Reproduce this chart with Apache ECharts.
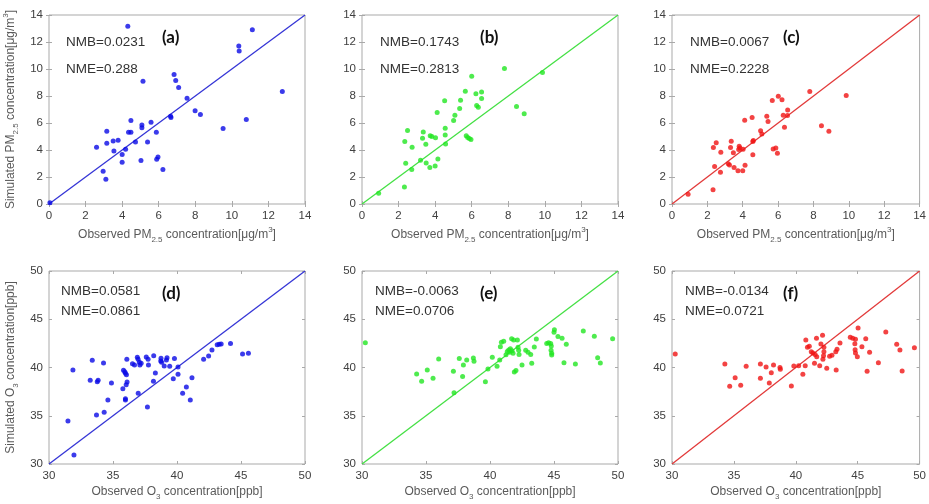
<!DOCTYPE html>
<html>
<head>
<meta charset="utf-8">
<script src="https://cdn.jsdelivr.net/npm/echarts@6/dist/echarts.min.js"></script>
<style>
  html, body { margin: 0; background: #fff; }
  #chart { width: 929px; height: 504px; }
</style>
</head>
<body>
<div id="chart"></div>
<script>
// [observed, simulated] pairs
const pmA = [
  [0.05, 0.1], [4.31, 13.16], [11.12, 12.91], [10.38, 11.7], [10.4, 11.33],
  [6.84, 9.6], [6.93, 9.15], [7.09, 8.63], [5.14, 9.1], [7.55, 7.84],
  [7.99, 6.9], [8.28, 6.63], [6.65, 6.5], [6.67, 6.4], [12.76, 8.34],
  [9.52, 5.59], [10.79, 6.26], [4.48, 6.18], [5.58, 6.06], [5.08, 5.86],
  [5.08, 5.64], [4.35, 5.32], [4.48, 5.32], [5.87, 5.32], [3.16, 5.39],
  [3.16, 4.5], [2.6, 4.2], [3.51, 4.67], [3.78, 4.72], [3.55, 3.93],
  [4.19, 4.06], [4.0, 3.66], [4.0, 3.09], [4.73, 4.6], [5.39, 4.6],
  [5.03, 3.22], [5.96, 3.49], [5.89, 3.31], [6.23, 2.55], [2.96, 2.42],
  [3.11, 1.83]
];
const pmB = [
  [0.91, 0.79], [2.32, 1.26], [9.87, 9.75], [7.79, 10.04], [6.0, 9.47],
  [5.65, 8.36], [6.23, 8.16], [6.54, 8.29], [6.54, 7.82], [5.39, 7.69],
  [4.52, 7.64], [5.34, 7.07], [6.27, 7.3], [6.36, 7.17], [8.45, 7.22],
  [8.87, 6.68], [4.11, 6.78], [5.08, 6.58], [5.01, 6.18], [4.55, 5.61],
  [4.55, 5.12], [4.57, 4.45], [5.7, 5.05], [5.78, 4.92], [5.87, 4.85],
  [5.96, 4.77], [2.49, 5.44], [2.34, 4.63], [2.74, 4.2], [3.35, 5.34],
  [3.31, 4.87], [3.49, 4.43], [3.73, 5.05], [3.82, 5.0], [4.02, 4.9],
  [2.39, 3.02], [2.72, 2.55], [3.2, 3.24], [3.51, 3.04], [3.71, 2.7],
  [4.0, 2.82], [4.15, 3.34]
];
const pmC = [
  [0.91, 0.72], [2.32, 1.06], [7.79, 8.34], [9.85, 8.04], [6.01, 7.99],
  [6.22, 7.72], [5.67, 7.67], [6.54, 6.97], [6.29, 6.58], [6.53, 6.55],
  [5.36, 6.5], [4.11, 6.21], [4.53, 6.41], [5.43, 6.11], [6.36, 5.69],
  [8.45, 5.79], [8.87, 5.39], [5.01, 5.42], [5.08, 5.19], [4.57, 4.63],
  [4.6, 4.7], [4.57, 3.64], [5.72, 4.08], [5.87, 4.15], [5.96, 3.76],
  [2.5, 4.53], [2.34, 4.18], [2.76, 3.83], [3.35, 4.64], [3.31, 4.18],
  [3.47, 3.79], [3.8, 4.28], [3.84, 4.15], [3.77, 4.03], [4.02, 4.06],
  [2.41, 2.77], [2.74, 2.35], [3.18, 2.99], [3.25, 2.89], [3.51, 2.7],
  [3.73, 2.47], [4.0, 2.47], [4.13, 2.87]
];
const o3D = [
  [31.48, 34.46], [31.95, 30.93], [31.87, 39.74], [33.38, 40.74], [33.22, 38.67],
  [33.77, 38.53], [33.84, 38.67], [34.26, 40.47], [33.71, 35.08], [34.31, 35.35],
  [34.6, 36.63], [34.88, 38.39], [35.82, 39.71], [35.92, 39.57], [35.97, 39.4],
  [35.77, 37.81], [36.05, 39.26], [36.1, 38.5], [36.03, 38.22], [35.97, 36.77],
  [35.97, 36.63], [36.08, 40.85], [36.52, 40.4], [36.68, 40.26], [36.9, 41.05],
  [36.96, 40.85], [37.06, 40.54], [37.1, 40.26], [37.2, 40.43], [37.6, 41.09],
  [37.74, 40.85], [37.77, 40.26], [38.18, 41.23], [38.75, 40.95], [38.73, 40.67],
  [38.8, 40.54], [39.0, 40.16], [39.22, 41.02], [39.17, 40.78], [39.43, 40.12],
  [39.8, 40.92], [38.31, 39.43], [38.16, 38.57], [36.97, 37.32], [37.69, 35.91],
  [39.71, 38.84], [40.08, 39.29], [40.08, 40.05], [40.44, 37.32], [40.73, 37.98],
  [41.17, 38.95], [41.04, 36.63], [42.08, 40.85], [42.47, 41.19], [42.73, 41.81],
  [43.14, 42.37], [43.3, 42.4], [43.45, 42.43], [44.18, 42.5], [45.12, 41.4],
  [45.58, 41.47]
];
const o3E = [
  [30.26, 42.57], [34.27, 39.33], [34.66, 38.57], [35.1, 39.74], [35.55, 38.88],
  [35.99, 40.88], [37.14, 39.6], [37.19, 37.39], [37.6, 40.92], [37.92, 40.26],
  [37.86, 39.08], [38.18, 40.78], [38.7, 40.98], [38.75, 40.64], [39.64, 38.53],
  [39.84, 39.84], [40.18, 41.05], [40.55, 40.12], [40.76, 40.78], [40.81, 42.16],
  [40.89, 42.61], [41.07, 42.71], [41.25, 41.33], [41.35, 41.67], [41.46, 41.81],
  [41.54, 41.57], [41.59, 41.95], [41.69, 42.99], [41.85, 42.85], [42.14, 42.85],
  [41.72, 41.74], [41.8, 41.47], [41.9, 39.53], [42.03, 39.7], [42.19, 42.09],
  [42.24, 41.78], [42.27, 41.36], [42.5, 40.26], [42.79, 41.78], [42.97, 41.57],
  [43.18, 41.36], [43.26, 40.43], [43.46, 42.12], [43.62, 42.95], [44.43, 42.5],
  [44.58, 42.57], [44.74, 42.5], [44.79, 42.23], [44.77, 41.78], [44.82, 41.47],
  [44.82, 41.29], [45.03, 43.92], [45.0, 43.64], [45.31, 43.2], [45.63, 43.02],
  [45.96, 42.4], [45.78, 40.5], [46.67, 40.36], [47.29, 43.78], [48.15, 43.23],
  [48.41, 41.02], [48.62, 40.47], [49.58, 42.99]
];
const o3F = [
  [30.26, 41.4], [34.27, 40.36], [34.66, 38.05], [35.1, 38.95], [35.55, 38.15],
  [35.99, 40.12], [37.14, 40.36], [37.14, 38.88], [37.6, 40.05], [37.86, 38.39],
  [38.02, 39.46], [38.2, 40.26], [38.72, 40.0], [38.75, 39.81], [39.64, 38.08],
  [39.84, 40.16], [40.23, 40.19], [40.57, 39.29], [40.76, 40.19], [40.81, 42.85],
  [40.94, 42.09], [41.09, 42.19], [41.25, 41.64], [41.38, 41.5], [41.56, 41.36],
  [41.69, 41.12], [41.67, 43.02], [42.16, 43.33], [41.51, 40.43], [41.93, 40.19],
  [42.03, 42.43], [42.27, 42.09], [42.27, 41.64], [42.24, 41.23], [42.19, 40.85],
  [42.5, 39.91], [42.73, 41.16], [42.92, 41.26], [43.23, 41.64], [43.33, 41.88],
  [43.26, 39.74], [43.57, 42.54], [44.4, 43.13], [44.6, 43.02], [44.82, 42.92],
  [44.77, 42.47], [44.79, 41.85], [44.82, 41.5], [44.97, 41.12], [45.03, 44.09],
  [45.65, 42.99], [45.34, 42.16], [45.96, 41.57], [45.76, 39.6], [46.67, 40.5],
  [47.27, 43.68], [48.15, 42.4], [48.41, 41.81], [48.59, 39.64], [49.58, 42.05]
];

// axis ranges [min, max, interval] and 1:1 reference lines
const pmAxis = [0, 14, 2];
const o3Axis = [30, 50, 5];
const pmOneToOne = [[0, 0], [14, 14]];
const o3OneToOne = [[30, 30], [50, 50]];

const panelTags = ['(a)', '(b)', '(c)', '(d)', '(e)', '(f)'];
const nmbText = ['NMB=0.0231', 'NMB=0.1743', 'NMB=0.0067', 'NMB=0.0581', 'NMB=-0.0063', 'NMB=-0.0134'];
const nmeText = ['NME=0.288', 'NME=0.2813', 'NME=0.2228', 'NME=0.0861', 'NME=0.0706', 'NME=0.0721'];

const pmXName = 'Observed PM{sub|2.5} concentration[{n|μ}g/m{sup|3}]';
const pmYName = 'Simulated PM{sub|2.5} concentration[{n|μ}g/m{sup|3}]';
const o3XName = 'Observed O{sub|3} concentration[ppb]';
const o3YName = 'Simulated O{sub|3} concentration[ppb]';

const BLUE = ['#0a0ae6', '#3535d6'];
const GREEN = ['#22e622', '#44e044'];
const RED = ['#f01414', '#e23a3a'];

const panels = [
  { data: pmA, axis: pmAxis, line: pmOneToOne, col: BLUE, left: 49, top: 15, h: 189, xName: pmXName, yName: pmYName },
  { data: pmB, axis: pmAxis, line: pmOneToOne, col: GREEN, left: 362, top: 15, h: 189, xName: pmXName, yName: '' },
  { data: pmC, axis: pmAxis, line: pmOneToOne, col: RED, left: 672, top: 15, h: 189, xName: pmXName, yName: '' },
  { data: o3D, axis: o3Axis, line: o3OneToOne, col: BLUE, left: 49, top: 271, h: 193, xName: o3XName, yName: o3YName },
  { data: o3E, axis: o3Axis, line: o3OneToOne, col: GREEN, left: 362, top: 271, h: 193, xName: o3XName, yName: '' },
  { data: o3F, axis: o3Axis, line: o3OneToOne, col: RED, left: 672, top: 271, h: 193, xName: o3XName, yName: '' }
];

const FONT = '"Liberation Sans", Arial, sans-serif';
const BOX = '#a9a9a9';
const nameRich = {
  base: {},
  sub: { fontSize: 8, verticalAlign: 'bottom', lineHeight: 18, color: '#5a5a5a', fontFamily: FONT },
  sup: { fontSize: 8, verticalAlign: 'top', lineHeight: 18, color: '#5a5a5a', fontFamily: FONT },
  n: { fontSize: 12, lineHeight: 18, color: '#5a5a5a', fontFamily: FONT }
};
const nameStyle = { color: '#5a5a5a', fontSize: 12, fontFamily: FONT, lineHeight: 18, rich: nameRich };

const grid = [], xAxis = [], yAxis = [], series = [], graphic = [];

panels.forEach((p, i) => {
  grid.push({
    left: p.left, top: p.top, width: 256, height: p.h,
    show: true, borderColor: BOX, borderWidth: 1, backgroundColor: '#fff'
  });
  const [mn, mx, step] = p.axis;
  const common = {
    gridIndex: i, type: 'value', min: mn, max: mx, interval: step,
    axisLine: { show: false }, splitLine: { show: false },
    axisTick: { inside: true, length: 3, lineStyle: { color: BOX } }
  };
  xAxis.push(Object.assign({}, common, {
    position: 'bottom',
    axisLabel: { color: '#404040', fontSize: 11.5, fontFamily: FONT, margin: 6 },
    name: p.xName, nameLocation: 'middle', nameGap: i < 3 ? 22 : 17,
    nameTextStyle: nameStyle
  }));
  xAxis.push(Object.assign({}, common, { position: 'top', axisLabel: { show: false } }));
  yAxis.push(Object.assign({}, common, {
    position: 'left',
    axisLabel: { color: '#404040', fontSize: 11.5, fontFamily: FONT, margin: 6 },
    name: p.yName, nameLocation: 'middle', nameGap: 29,
    nameTextStyle: nameStyle
  }));
  yAxis.push(Object.assign({}, common, { position: 'right', axisLabel: { show: false } }));

  series.push({
    type: 'line', xAxisIndex: 2 * i, yAxisIndex: 2 * i, data: p.line,
    showSymbol: false, silent: true,
    lineStyle: { color: p.col[1], width: 1.3 }, z: 2
  });
  series.push({
    type: 'scatter', xAxisIndex: 2 * i, yAxisIndex: 2 * i, data: p.data,
    symbolSize: 5, itemStyle: { color: p.col[0] }, z: 3
  });

  const top = p.top;
  const textLeft = p.left + (i % 3 === 0 ? 17 : 18) - (i >= 3 ? 5 : 0);
  const nmbTop = i < 3 ? top + 20 : top + 13;
  const nmeTop = i < 3 ? top + 47 : top + 33;
  graphic.push({ type: 'text', left: textLeft, top: nmbTop,
    style: { text: nmbText[i], font: '13.5px ' + FONT, fill: '#333' } });
  graphic.push({ type: 'text', left: textLeft, top: nmeTop,
    style: { text: nmeText[i], font: '13.5px ' + FONT, fill: '#333' } });
  const tagLeft = [162, 480, 783][i % 3];
  graphic.push({ type: 'text', left: tagLeft, top: i < 3 ? top + 14 : top + 14,
    style: { text: panelTags[i], font: 'bold 17px Lato, "Open Sans", sans-serif', fill: '#111' } });
});

const chart = echarts.init(document.getElementById('chart'));
chart.setOption({
  backgroundColor: '#fff',
  animation: false,
  grid, xAxis, yAxis, series, graphic
});
</script>
</body>
</html>
